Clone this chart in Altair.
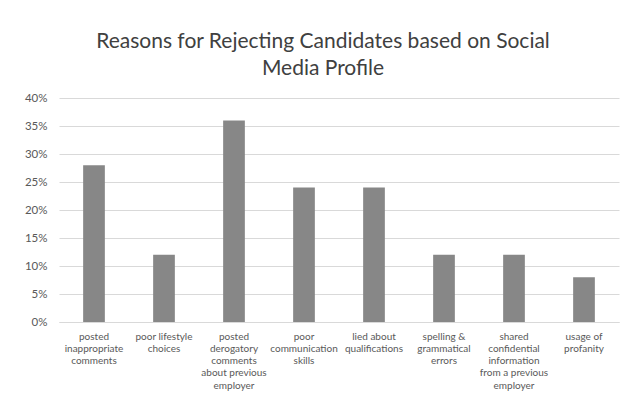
import altair as alt
import pandas as pd

categories = [
    "posted|inappropriate|comments",
    "poor lifestyle|choices",
    "posted|derogatory|comments|about previous|employer",
    "poor|communication|skills",
    "lied about|qualifications",
    "spelling &|grammatical|errors",
    "shared|confidential|information|from a previous|employer",
    "usage of|profanity",
]
values = [0.28, 0.12, 0.36, 0.24, 0.24, 0.12, 0.12, 0.08]
y_ticks = [0, 0.05, 0.10, 0.15, 0.20, 0.25, 0.30, 0.35, 0.40]

df = pd.DataFrame({"reason": categories, "share": values})

FONT = "Lato"

chart = (
    alt.Chart(df)
    .mark_bar(color="#878787")
    .encode(
        x=alt.X(
            "reason:N",
            sort=None,
            title=None,
            scale=alt.Scale(paddingInner=0.69, paddingOuter=0.345),
            axis=alt.Axis(
                labelAngle=0,
                labelExpr="split(datum.label, '|')",
                labelFont=FONT,
                labelFontSize=10,
                labelLineHeight=12.3,
                labelColor="#595959",
                labelBaseline="top",
                labelPadding=9,
                ticks=False,
                domain=True,
                domainColor="#d9d9d9",
                grid=False,
                labelLimit=200,
            ),
        ),
        y=alt.Y(
            "share:Q",
            title=None,
            scale=alt.Scale(domain=[0, 0.40], nice=False),
            axis=alt.Axis(
                values=y_ticks,
                format=".0%",
                labelFont=FONT,
                labelFontSize=11.5,
                labelColor="#595959",
                labelPadding=12,
                ticks=False,
                domain=False,
                grid=True,
                gridColor="#d9d9d9",
            ),
        ),
    )
    .properties(
        width=560,
        height=224,
        autosize=alt.AutoSizeParams(type="none"),
        padding={"left": 51, "top": 90, "right": 8, "bottom": 70},
        title=alt.TitleParams(
            text=["Reasons for Rejecting Candidates based on Social", "Media Profile"],
            font=FONT,
            fontSize=21,
            fontWeight="normal",
            color="#404040",
            anchor="middle",
            dx=-16,
            offset=13,
            lineHeight=27,
        ),
        background="white",
    )
    .configure_view(stroke=None)
)

chart.save("out.html", embed_options={"renderer": "svg", "actions": False})
